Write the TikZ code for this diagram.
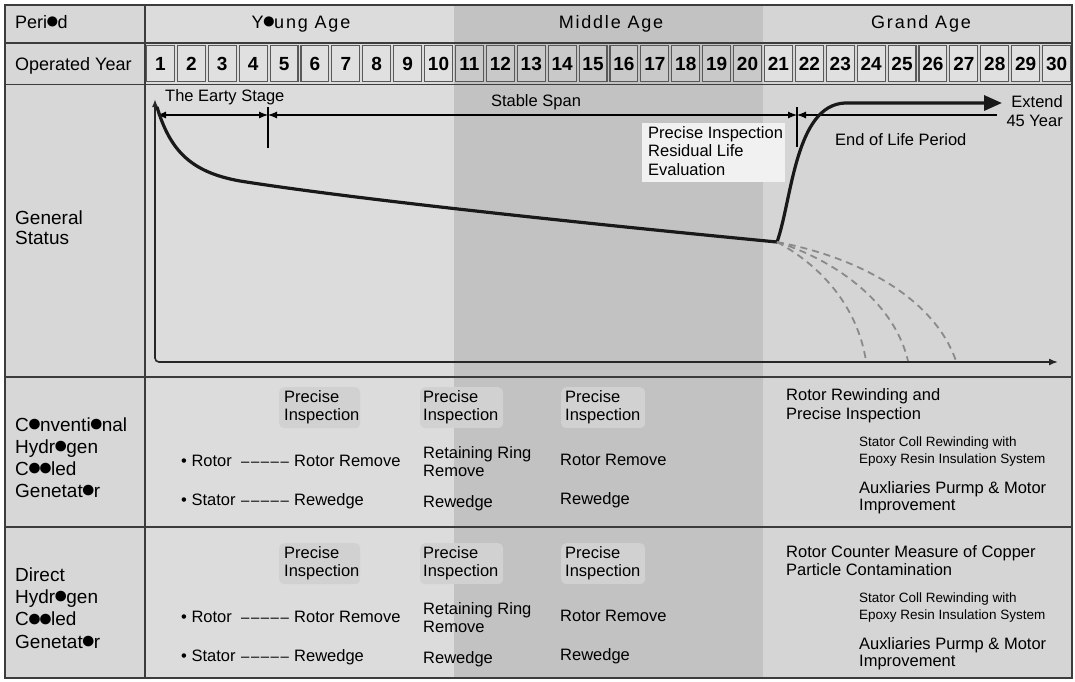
\documentclass[tikz,border=0pt]{standalone}
\usepackage{graphicx}
\usepackage{fontspec}
\setmainfont{Liberation Sans}
\newfontfamily\hdrfont[LetterSpace=10]{Liberation Sans}
\usetikzlibrary{arrows.meta}
\definecolor{lineC}{HTML}{3C3C3C}
\definecolor{bgL}{HTML}{DCDCDC}
\definecolor{bgM}{HTML}{C2C2C2}
\definecolor{bgR}{HTML}{D5D5D5}
\definecolor{bgLab}{HTML}{D7D7D7}
\definecolor{cellL}{HTML}{E0E0E0}
\definecolor{cellM}{HTML}{C9C9C9}
\definecolor{boxC}{HTML}{D1D1D1}
\definecolor{boxW}{HTML}{F1F1F1}
\definecolor{dashC}{HTML}{8A8A8A}
\newcommand{\dashrun}{{\fontsize{15}{18}\selectfont –\kern1.5pt–\kern1.5pt–\kern1.5pt–\kern1.5pt–}}
\newcommand{\bo}{\kern-0.1em\raisebox{-0.03em}{\scalebox{1.3}{●}}\kern-0.1em}
\begin{document}
\begin{tikzpicture}[x=1pt,y=-1pt,
  grid/.style={draw=lineC, line width=1.8pt},
  hdr/.style={inner sep=0, anchor=base, font=\hdrfont\fontsize{18}{20}\selectfont},
  hlab/.style={inner sep=0, anchor=base west, font=\fontsize{18}{20}\selectfont},
  lab/.style={inner sep=0, anchor=base west, align=left, font=\fontsize{19}{22}\selectfont},
  yr/.style={inner sep=0, anchor=base, font=\bfseries\fontsize{19}{20}\selectfont},
  ctxt/.style={inner sep=0, anchor=base west, align=left, font=\fontsize{16.5}{18.5}\selectfont},
  txt/.style={inner sep=0, anchor=base west, align=left, font=\fontsize{16.5}{18}\selectfont},
  small/.style={inner sep=0, anchor=base west, align=left, font=\fontsize{13.5}{17}\selectfont},
  pibox/.style={fill=boxC, rounded corners=5pt, draw=none, inner sep=0, anchor=north west, minimum height=41pt},
  dim/.style={draw=black, line width=1.1pt},
  axis/.style={draw=black!85, line width=1.6pt, rounded corners=4pt},
  life/.style={draw=black!90, line width=3.2pt, line join=round},
  fail/.style={draw=dashC, line width=1.8pt, dash pattern=on 7pt off 5pt}
]
\useasboundingbox (0,0) rectangle (1075,681);
% backgrounds
\fill[bgLab] (5,5) rectangle (145,678);
\fill[bgL] (145,5) rectangle (454,678);
\fill[bgM] (454,5) rectangle (763,678);
\fill[bgR] (763,5) rectangle (1072,678);
% year cells
\foreach \i in {1,...,30} {
  \pgfmathsetmacro{\xa}{145+30.9*(\i-1)+1.5}
  \pgfmathsetmacro{\xb}{145+30.9*\i-1.5}
  \pgfmathsetmacro{\xc}{145+30.9*(\i-0.5)}
  \ifnum\i>10 \ifnum\i<21 \def\cc{cellM}\else\def\cc{cellL}\fi\else\def\cc{cellL}\fi
  \draw[fill=\cc, draw=lineC!85, line width=1.1pt] (\xa,45.5) rectangle (\xb,81.5);
  \node[yr] (y\i) at (\xc,70.3) {\i};
}
% grid
\draw[grid] (5,5) rectangle (1072,678);
\draw[grid] (145,5) -- (145,678);
\draw[grid] (5,43) -- (1072,43);
\draw[grid] (5,84.5) -- (1072,84.5);
\draw[grid] (5,377) -- (1072,377);
\draw[grid] (5,527) -- (1072,527);
% header
\node[hlab] (period) at (15,28) {Peri\bo d};
\node[hdr] (young) at (301,28) {Y\bo ung Age};
\node[hdr] (middle) at (611,28) {Middle Age};
\node[hdr] (grand) at (921,28) {Grand Age};
\node[hlab] (opyear) at (15,70) {Operated Year};
% left labels (base = last line)
\node[lab, font=\fontsize{19}{20.5}\selectfont] (gs) at (15,244.5) {General\\Status};
\node[lab] (conv) at (15,497) {C\bo nventi\bo nal\\Hydr\bo gen\\C\bo\bo led\\Genetat\bo r};
\node[lab, font=\fontsize{19}{22.3}\selectfont] (direct) at (15,648) {Direct\\Hydr\bo gen\\C\bo\bo led\\Genetat\bo r};
% chart
\coordinate (yTop) at (155,99);
\coordinate (orig) at (155,362);
\coordinate (xEnd) at (1058,362);
\draw[axis, {Latex[length=8pt,width=6pt]}-{Latex[length=9pt,width=7pt]}] (yTop) -- (orig) -- (xEnd);
\node[fill=boxW, inner sep=0, minimum width=143pt, minimum height=59pt, anchor=north west] (pibg) at (642,123) {};
\node[ctxt] (pitxt) at (648,175) {Precise Inspection\\Residual Life\\Evaluation};
\coordinate (t1a) at (268,107); \coordinate (t1b) at (268,148);
\coordinate (t2a) at (797,107); \coordinate (t2b) at (797,147);
\draw[dim] (t1a) -- (t1b);
\draw[dim] (t2a) -- (t2b);
\coordinate (d0) at (157,115); \coordinate (d1) at (268,115);
\coordinate (d2) at (797,115); \coordinate (d3) at (997,115);
\draw[dim, {Latex[length=9pt,width=7pt]}-{Latex[length=9pt,width=7pt]}] (d0) -- (d1);
\draw[dim, {Latex[length=9pt,width=7pt]}-{Latex[length=9pt,width=7pt]}] (d1) -- (d2);
\draw[dim, {Latex[length=9pt,width=7pt]}-] (d2) -- (d3);
\node[ctxt] (early) at (165,101) {The Earty Stage};
\node[ctxt, anchor=base] (stable) at (536,106) {Stable Span};
\node[ctxt] (eol) at (835,145) {End of Life Period};
\node[ctxt, anchor=base east, align=right, font=\fontsize{16.5}{19}\selectfont] (ext) at (1063,126) {Extend\\45 Year};
\coordinate (c0) at (157,107);
\coordinate (c1) at (240,181);
\coordinate (c2) at (777,242);
\coordinate (c3) at (845,103);
\coordinate (c4) at (1002,103);
\draw[life, -{Triangle[length=18pt,width=15pt]}] (c0) .. controls (170,150) and (190,172) .. (c1)
  .. controls (360,200) and (600,225) .. (c2)
  .. controls (792,200) and (795,105) .. (c3) -- (c4);
\coordinate (f1) at (866,361); \coordinate (f2) at (908,361); \coordinate (f3) at (956,361);
\draw[fail] (c2) .. controls (825,268) and (858,310) .. (f1);
\draw[fail] (c2) .. controls (840,262) and (895,305) .. (f2);
\draw[fail] (c2) .. controls (862,258) and (935,300) .. (f3);
% conventional row
\node[pibox, minimum width=81pt] (cb1) at (279,387) {};
\node[pibox, minimum width=83pt] (cb2) at (420,387) {};
\node[pibox, minimum width=84pt] (cb3) at (561,387) {};
\node[txt] (cp1) at (284,420.5) {Precise\\Inspection};
\node[txt] (cp2) at (423,420.5) {Precise\\Inspection};
\node[txt] (cp3) at (565,420.5) {Precise\\Inspection};
\node[txt] (cr1) at (181,466.5) {• Rotor};
\node[txt] (cd1) at (241,466.5) {\dashrun};
\node[txt] (crr1) at (294,466.5) {Rotor Remove};
\node[txt] (cs1) at (181,505.5) {• Stator};
\node[txt] (cd2) at (241,505.5) {\dashrun};
\node[txt] (crw1) at (294,505.5) {Rewedge};
\node[txt] (cret) at (423,476.5) {Retaining Ring\\Remove};
\node[txt] (crw2) at (423,507.5) {Rewedge};
\node[txt] (crr3) at (560,465.5) {Rotor Remove};
\node[txt] (crw3) at (560,504.5) {Rewedge};
\node[txt, font=\fontsize{16.5}{19}\selectfont] (chead) at (786,419.5) {Rotor Rewinding and\\Precise Inspection};
\node[small] (cstat) at (859,463.5) {Stator Coll Rewinding with\\Epoxy Resin Insulation System};
\node[txt, font=\fontsize{16.5}{17}\selectfont] (caux) at (859,510.5) {Auxliaries Purmp \& Motor\\Improvement};
% direct row
\node[pibox, minimum width=81pt] (db1) at (279,543) {};
\node[pibox, minimum width=83pt] (db2) at (420,543) {};
\node[pibox, minimum width=84pt] (db3) at (561,543) {};
\node[txt] (dp1) at (284,576.5) {Precise\\Inspection};
\node[txt] (dp2) at (423,576.5) {Precise\\Inspection};
\node[txt] (dp3) at (565,576.5) {Precise\\Inspection};
\node[txt] (dr1) at (181,622.5) {• Rotor};
\node[txt] (dd1) at (241,622.5) {\dashrun};
\node[txt] (drr1) at (294,622.5) {Rotor Remove};
\node[txt] (ds1) at (181,661.5) {• Stator};
\node[txt] (dd2) at (241,661.5) {\dashrun};
\node[txt] (drw1) at (294,661.5) {Rewedge};
\node[txt] (dret) at (423,632.5) {Retaining Ring\\Remove};
\node[txt] (drw2) at (423,663.5) {Rewedge};
\node[txt] (drr3) at (560,621.5) {Rotor Remove};
\node[txt] (drw3) at (560,660.5) {Rewedge};
\node[txt, font=\fontsize{16.5}{18}\selectfont] (dhead) at (786,575.5) {Rotor Counter Measure of Copper\\Particle Contamination};
\node[small] (dstat) at (859,619.5) {Stator Coll Rewinding with\\Epoxy Resin Insulation System};
\node[txt, font=\fontsize{16.5}{17}\selectfont] (daux) at (859,666.5) {Auxliaries Purmp \& Motor\\Improvement};
\end{tikzpicture}
\end{document}
